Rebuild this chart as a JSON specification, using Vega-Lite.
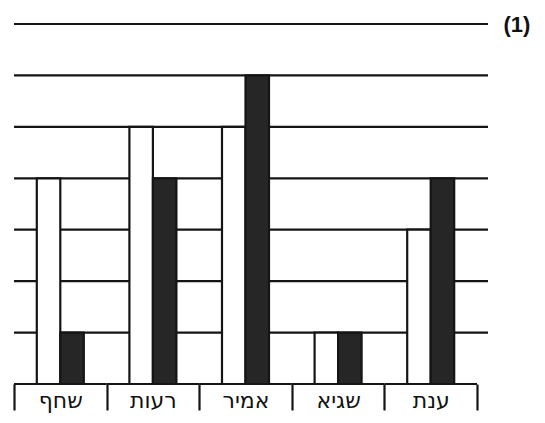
{
  "$schema": "https://vega.github.io/schema/vega-lite/v6.json",
  "autosize": "none",
  "width": 474,
  "height": 360,
  "padding": {"left": 14, "top": 24, "right": 57, "bottom": 39},
  "background": "white",
  "config": {"view": {"stroke": null}},
  "resolve": {"axis": {"y": "independent"}},
  "datasets": {
    "levels": [{"level": 1}, {"level": 2}, {"level": 3}, {"level": 4}, {"level": 5}, {"level": 6}, {"level": 7}],
    "cats": [{"name": "שחף"}, {"name": "רעות"}, {"name": "אמיר"}, {"name": "שגיא"}, {"name": "ענת"}],
    "bars": [
      {"name": "שחף", "series": "white", "value": 4},
      {"name": "שחף", "series": "black", "value": 1},
      {"name": "רעות", "series": "white", "value": 5},
      {"name": "רעות", "series": "black", "value": 4},
      {"name": "אמיר", "series": "white", "value": 5},
      {"name": "אמיר", "series": "black", "value": 6},
      {"name": "שגיא", "series": "white", "value": 1},
      {"name": "שגיא", "series": "black", "value": 1},
      {"name": "ענת", "series": "white", "value": 3},
      {"name": "ענת", "series": "black", "value": 4}
    ]
  },
  "layer": [
    {
      "data": {"name": "levels"},
      "mark": {"type": "rule", "stroke": "#151515", "strokeWidth": 2.2},
      "encoding": {
        "y": {
          "field": "level", "type": "quantitative",
          "scale": {"domain": [0, 7], "nice": false, "zero": true},
          "axis": {
            "orient": "right", "title": null, "grid": false, "domain": false, "ticks": false,
            "values": [7], "labelExpr": "'(1)'", "labelFont": "Liberation Sans",
            "labelFontWeight": "bold", "labelFontSize": 22, "labelColor": "#111",
            "labelPadding": 15
          }
        }
      }
    },
    {
      "data": {"name": "cats"},
      "mark": {"type": "bar", "fill": null, "stroke": "#151515", "strokeWidth": 2.2},
      "encoding": {
        "x": {
          "field": "name", "type": "nominal", "sort": null,
          "scale": {"domain": ["שחף", "רעות", "אמיר", "שגיא", "ענת"], "paddingInner": 0, "paddingOuter": 0.0594, "align": 0},
          "axis": {
            "title": null, "domain": false, "tickBand": "extent", "tickSize": 26, "tickWidth": 2.2,
            "tickColor": "#151515", "labelAngle": 0, "labelFont": "DejaVu Sans", "labelFontSize": 22,
            "labelColor": "#111", "labelPadding": -20, "labelBaseline": "top"
          }
        },
        "y": {"datum": 0, "type": "quantitative", "axis": null},
        "y2": {"datum": 0}
      }
    },
    {
      "data": {"name": "bars"},
      "mark": {"type": "bar", "stroke": "#151515", "strokeWidth": 2.2},
      "encoding": {
        "x": {"field": "name", "type": "nominal", "sort": null},
        "xOffset": {
          "field": "series", "type": "nominal",
          "scale": {"domain": ["white", "black"], "paddingInner": 0, "paddingOuter": 0.97}
        },
        "y": {"field": "value", "type": "quantitative", "axis": null},
        "fill": {
          "field": "series", "type": "nominal",
          "scale": {"domain": ["white", "black"], "range": ["#ffffff", "#262626"]},
          "legend": null
        }
      }
    }
  ]
}
